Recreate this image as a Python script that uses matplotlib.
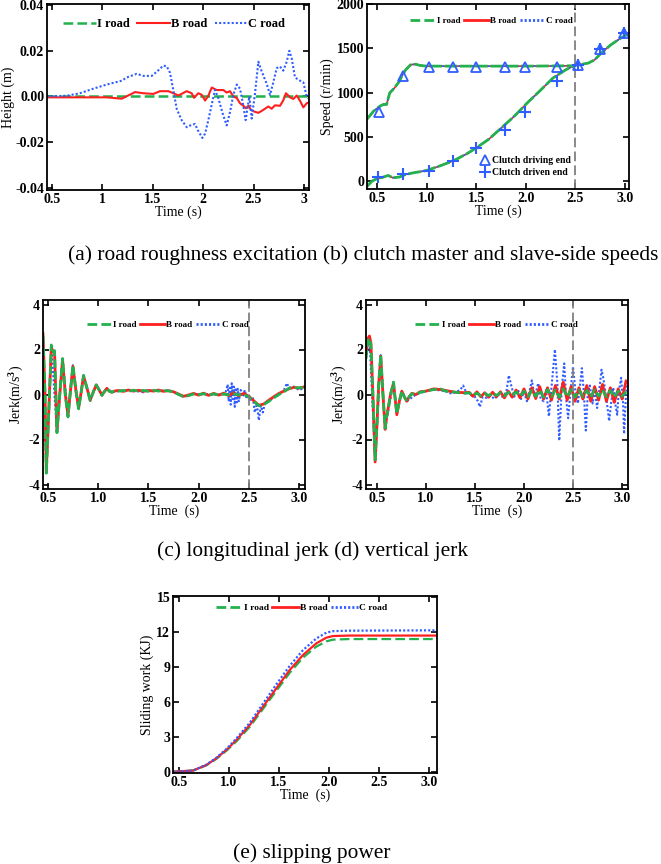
import numpy as np
import matplotlib
matplotlib.use("Agg")
import matplotlib.pyplot as plt

plt.rcParams['font.family'] = ['Liberation Serif', 'DejaVu Serif']
plt.rcParams['font.weight'] = 'bold'
plt.rcParams['mathtext.fontset'] = 'custom'
plt.rcParams['mathtext.rm'] = 'Liberation Serif:bold'
plt.rcParams['mathtext.it'] = 'Liberation Serif:bold:italic'
plt.rcParams['lines.scale_dashes'] = False

GREEN = '#22b14c'
RED = '#ff1f1f'
BLUE = '#2f5dff'
GREY = '#808080'
DASH = (0, (7, 3))
DOT = (0, (1.5, 1.5))

# ---------------- (a) road roughness ----------------
t_a_I = [0.45, 1.0, 1.5, 2.0, 2.5, 3.06]
h_I = [0.0, 0.0, 0.0, 0.0, 0.0, 0.0]
t_a_B = [0.45, 1.045, 1.194, 1.326, 1.408, 1.507, 1.573, 1.656, 1.705, 1.755, 1.838, 1.887,
         1.910, 1.953, 1.987, 2.02, 2.052, 2.086, 2.135, 2.201, 2.234, 2.267, 2.30, 2.334,
         2.366, 2.399, 2.426, 2.449, 2.475, 2.505, 2.548, 2.597, 2.647, 2.680, 2.713, 2.763,
         2.795, 2.822, 2.862, 2.895, 2.928, 2.961, 2.994, 3.027, 3.06]
h_B = [-0.0004, -0.0004, -0.001, 0.0019, 0.0014, 0.0011, 0.0023, 0.0023, 0.0014, 0.0004,
       0.0023, 0.0014, -0.0006, 0.0014, 0.0007, -0.0018, 0.0003, 0.0039, 0.0028, 0.0028,
       0.0017, 0.0023, 0.0, -0.0007, -0.003, -0.0041, -0.0052, -0.0041, -0.0059, -0.0066,
       -0.0072, -0.0059, -0.0044, -0.0054, -0.0039, -0.0041, -0.0017, 0.0014, -0.0004,
       -0.0011, 0.0004, -0.0019, -0.0048, -0.003, -0.0025]
t_a_C = [0.45, 0.649, 0.78, 0.912, 1.045, 1.194, 1.243, 1.342, 1.408, 1.491, 1.541, 1.606,
         1.64, 1.672, 1.705, 1.739, 1.788, 1.838, 1.887, 1.920, 1.953, 1.993, 2.02, 2.052,
         2.086, 2.118, 2.151, 2.195, 2.234, 2.267, 2.30, 2.334, 2.366, 2.399, 2.422, 2.439,
         2.459, 2.482, 2.515, 2.548, 2.581, 2.631, 2.664, 2.696, 2.730, 2.763, 2.795, 2.829,
         2.855, 2.879, 2.911, 2.961, 2.994, 3.027, 3.06]
h_C = [0.0, 0.0003, 0.0014, 0.0034, 0.0052, 0.0069, 0.0083, 0.0099, 0.009, 0.009, 0.0108,
       0.0135, 0.0132, 0.0104, 0.0028, -0.0055, -0.0104, -0.0135, -0.0124, -0.0121, -0.0152,
       -0.0182, -0.0163, -0.0104, -0.0035, 0.0028, -0.0007, -0.0076, -0.0127, -0.0069,
       0.0007, 0.0052, 0.0034, -0.0041, -0.0104, -0.0055, 0.0, -0.0097, 0.0014, 0.0152,
       0.011, 0.0055, 0.0007, 0.0062, 0.0124, 0.0131, 0.0113, 0.0152, 0.02, 0.0166, 0.0083,
       0.0069, 0.0062, 0.0, -0.0014]

# ---------------- (b) clutch speeds ----------------
t_drive = [0.40, 0.468, 0.532, 0.565, 0.597, 0.629, 0.677, 0.726, 0.758, 0.79, 0.839, 0.887,
           0.935, 1.0, 1.5, 2.0, 2.468, 2.532, 2.629, 2.694, 2.758, 2.855, 2.952, 3.04]
n_drive = [700, 791, 847, 865, 865, 996, 1052, 1126, 1201, 1257, 1313, 1320, 1306, 1298,
           1298, 1298, 1302, 1313, 1332, 1369, 1443, 1537, 1611, 1667]
t_driven = [0.40, 0.452, 0.5, 0.565, 0.613, 0.661, 0.726, 0.79, 0.855, 1.0, 1.145, 1.274,
            1.403, 1.5, 1.629, 1.758, 1.887, 2.016, 2.145, 2.274, 2.403, 2.516]
n_driven = [-60, 0, 26, 45, 63, 37, 45, 75, 90, 119, 175, 231, 306, 373, 474, 604, 735, 884,
            1022, 1164, 1257, 1320]
t_mark_drive = [0.52, 0.76, 1.02, 1.27, 1.50, 1.79, 1.99, 2.31, 2.53, 2.75, 2.99]
n_mark_drive = [780, 1190, 1290, 1290, 1290, 1290, 1290, 1290, 1310, 1490, 1670]
t_mark_driven = [0.51, 0.76, 1.02, 1.27, 1.50, 1.79, 1.99, 2.31, 2.53, 2.75, 2.99]
n_mark_driven = [45, 82, 119, 224, 369, 574, 783, 1126, 1310, 1490, 1670]

# ---------------- (c) longitudinal jerk ----------------
t_long = [0.45, 0.47, 0.483, 0.51, 0.533, 0.55, 0.565, 0.589, 0.617, 0.645, 0.672, 0.699,
          0.722, 0.748, 0.777, 0.805, 0.83, 0.854, 0.887, 0.92, 0.95, 0.98, 1.01, 1.037,
          1.06, 1.086, 1.11, 1.136, 1.17, 1.2, 1.25, 1.3, 1.35, 1.4, 1.45, 1.5, 1.55, 1.6,
          1.65, 1.7, 1.75, 1.8, 1.85, 1.9, 1.95, 2.0, 2.05, 2.1, 2.15, 2.2, 2.25, 2.3, 2.35,
          2.4, 2.45, 2.5, 2.55, 2.6, 2.65, 2.7, 2.75, 2.8, 2.85, 2.9, 2.95, 3.0, 3.06]
jl_I = [2.6, 0.0, -3.5, -0.5, 2.2, 1.9, 1.95, -1.7, 0.0, 1.6, 0.0, -1.0, 0.1, 1.3, 0.2,
        -0.64, 0.1, 0.85, 0.3, -0.27, 0.1, 0.43, 0.2, -0.04, 0.12, 0.28, 0.15, 0.1, 0.18,
        0.15, 0.18, 0.14, 0.19, 0.15, 0.18, 0.14, 0.19, 0.15, 0.18, 0.16, 0.12, 0.0, -0.1,
        -0.05, 0.02, 0.0, 0.03, -0.02, 0.02, 0.0, 0.02, -0.02, 0.03, -0.02, 0.0, -0.1, -0.3,
        -0.5, -0.45, -0.3, -0.15, 0.0, 0.12, 0.28, 0.3, 0.3, 0.32]
jl_B = [2.7, 0.0, -3.4, -0.5, 2.1, 1.9, 1.9, -1.65, 0.0, 1.55, 0.0, -0.95, 0.1, 1.25, 0.2,
        -0.6, 0.1, 0.82, 0.3, -0.25, 0.1, 0.42, 0.2, -0.03, 0.12, 0.27, 0.15, 0.1, 0.16,
        0.18, 0.14, 0.2, 0.15, 0.19, 0.14, 0.18, 0.15, 0.2, 0.14, 0.17, 0.12, 0.02, -0.08,
        -0.02, 0.05, -0.03, 0.06, -0.04, 0.05, -0.03, 0.06, -0.05, 0.08, -0.06, 0.05, -0.08,
        -0.28, -0.48, -0.42, -0.25, -0.1, 0.05, 0.15, 0.25, 0.32, 0.28, 0.35]
t_long_C = [0.45, 0.483, 0.533, 0.589, 0.645, 0.699, 0.748, 0.805, 0.854, 0.92, 0.98, 1.037,
            1.086, 1.136, 1.2, 1.3, 1.4, 1.45, 1.5, 1.55, 1.6, 1.7, 1.75, 1.85, 1.95, 2.05,
            2.15, 2.25, 2.27, 2.29, 2.30, 2.31, 2.32, 2.33, 2.34, 2.35, 2.36, 2.37, 2.38, 2.39,
            2.40, 2.42, 2.44, 2.46, 2.48, 2.50, 2.52, 2.54, 2.56, 2.58, 2.60, 2.62, 2.64, 2.66,
            2.70, 2.75, 2.80, 2.85, 2.88, 2.90, 2.95, 3.0, 3.06]
jl_C = [2.6, -3.5, 2.2, -1.7, 1.6, -1.0, 1.3, -0.64, 0.85, -0.27, 0.43, -0.04, 0.28, 0.1,
        0.15, 0.18, 0.14, 0.1, 0.2, 0.15, 0.18, 0.16, 0.12, -0.1, 0.02, 0.02, 0.0, 0.0, 0.1,
        0.45, -0.3, 0.3, -0.45, 0.5, -0.2, 0.35, -0.55, 0.3, -0.35, 0.25, -0.3, 0.2, -0.1,
        0.2, -0.2, 0.0, -0.3, -0.1, -0.8, -0.4, -1.15, -0.5, -0.8, -0.4, -0.3, -0.1, 0.0, 0.2,
        0.5, 0.3, 0.35, 0.2, 0.3]

# ---------------- (d) vertical jerk ----------------
t_vert = [0.39, 0.41, 0.425, 0.44, 0.46, 0.483, 0.50, 0.52, 0.54, 0.56, 0.585, 0.60, 0.618,
          0.64, 0.67, 0.69, 0.704, 0.73, 0.755, 0.78, 0.806, 0.83, 0.857, 0.9, 0.94, 1.0,
          1.08, 1.15, 1.2, 1.3, 1.4,
          1.44, 1.48, 1.52, 1.56, 1.60, 1.64, 1.68, 1.72, 1.76, 1.80, 1.84, 1.88, 1.92, 1.96,
          2.00, 2.04, 2.08, 2.12, 2.16, 2.20, 2.24, 2.28, 2.32, 2.36, 2.40, 2.44, 2.48, 2.52,
          2.56, 2.60, 2.64, 2.68, 2.72, 2.76, 2.80, 2.84, 2.88, 2.92, 2.96, 3.00, 3.04]
jv_I = [1.6, 2.4, 2.5, 2.2, 0.0, -2.9, -1.5, 0.5, 1.75, 0.2, -1.5, -1.0, -0.6, 0.0, 0.55,
        -0.3, -0.85, -0.3, 0.15, -0.1, -0.3, -0.1, 0.03, 0.0, 0.1, 0.15, 0.22, 0.25, 0.15,
        0.1, 0.05,
        0.08, -0.04, 0.06, -0.06, 0.05, -0.05, 0.07, -0.04, 0.08, -0.06, 0.10, -0.05, 0.12,
        -0.08, 0.15, -0.10, 0.18, -0.08, 0.20, -0.12, 0.22, -0.10, 0.20, -0.12, 0.25, -0.10,
        0.22, -0.12, 0.20, -0.10, 0.18, -0.12, 0.22, -0.08, 0.20, -0.10, 0.18, -0.12, 0.15,
        -0.08, 0.12]
jv_B = [1.8, 2.5, 2.6, 2.3, 0.0, -3.0, -1.5, 0.5, 1.7, 0.2, -1.55, -1.0, -0.55, 0.0, 0.5,
        -0.3, -0.9, -0.3, 0.15, -0.1, -0.3, -0.1, 0.05, 0.0, 0.12, 0.15, 0.25, 0.22, 0.18,
        0.1, 0.08,
        0.1, -0.08, 0.12, -0.1, 0.08, -0.12, 0.1, -0.1, 0.12, -0.15, 0.15, -0.12, 0.2, -0.15,
        0.25, -0.2, 0.3, -0.18, 0.35, -0.2, 0.3, -0.25, 0.4, -0.2, 0.55, -0.25, 0.35, -0.3,
        0.3, -0.2, 0.4, -0.3, 0.35, -0.25, 0.45, -0.3, 0.3, -0.35, 0.25, -0.2, 0.6]
t_vert_C = [0.39, 0.425, 0.483, 0.54, 0.585, 0.67, 0.704, 0.755, 0.806, 0.9, 1.0, 1.08, 1.2,
            1.25, 1.3, 1.35, 1.38, 1.41, 1.45, 1.5, 1.53, 1.55, 1.58, 1.62, 1.66, 1.7, 1.74,
            1.78, 1.82, 1.845, 1.87, 1.9, 1.94, 1.97, 2.0, 2.03, 2.06, 2.08, 2.11, 2.145, 2.17,
            2.2, 2.225, 2.254, 2.28, 2.315, 2.34, 2.359, 2.385, 2.41, 2.43, 2.45, 2.475, 2.50,
            2.525, 2.55, 2.59, 2.61, 2.63, 2.65, 2.67, 2.70, 2.72, 2.745, 2.77, 2.79, 2.81,
            2.84, 2.868, 2.89, 2.91, 2.935, 2.95, 2.965, 2.99, 3.01, 3.02, 3.04, 3.06]
jv_C = [1.6, 2.5, -2.9, 1.75, -1.5, 0.55, -0.85, 0.15, -0.3, 0.0, 0.15, 0.22, 0.15,
        0.05, 0.1, 0.2, 0.4, 0.1, 0.0, -0.1, -0.3, -0.55, -0.1, -0.15, -0.05, -0.2, 0.0,
        -0.1, 0.1, 0.85, 0.4, -0.1, 0.2, -0.2, 0.1, -0.3, 0.2, 0.63, -0.1, 0.5, -0.2,
        -0.3, 0.2, -0.97, 0.3, 2.0, 0.5, -2.05, 0.3, 1.38, -0.2, -1.05, 0.2, 1.24,
        0.1, -0.4, 1.17, 0.1, -1.6, 0.0, 0.4, -0.4, 0.3, -0.6, 0.3, 1.1, 0.7,
        -0.2, -1.18, -0.3, 0.3, -0.54, -0.9, 0.1, 0.74, -0.4, -1.75, 0.0, 0.7]

# ---------------- (e) sliding work ----------------
t_work = [0.44, 0.64, 0.773, 0.873, 0.98, 1.073, 1.207, 1.34, 1.473, 1.607, 1.74, 1.873,
          1.973, 2.04, 2.2, 3.08]
w_I = [0.0, 0.1, 0.55, 1.1, 1.85, 2.6, 3.85, 5.4, 6.95, 8.5, 9.8, 10.75, 11.2, 11.35, 11.4, 11.4]
w_B = [0.0, 0.1, 0.57, 1.15, 1.92, 2.72, 4.01, 5.59, 7.16, 8.74, 10.03, 11.03, 11.52, 11.66, 11.7, 11.7]
w_C = [0.0, 0.1, 0.6, 1.2, 2.0, 2.85, 4.2, 5.85, 7.5, 9.1, 10.45, 11.45, 11.95, 12.08, 12.12, 12.15]

legend_labels = ['I road', 'B road', 'C road']
captions = ['(a) road roughness excitation (b) clutch master and slave-side speeds',
            '(c) longitudinal jerk (d) vertical jerk',
            '(e) slipping power']

W, H = 661, 864
fig = plt.figure(figsize=(W / 100, H / 100), dpi=100)


def add_ax(x0, y0, x1, y1):
    return fig.add_axes([x0 / W, 1 - y1 / H, (x1 - x0) / W, (y1 - y0) / H])


def style(ax, xlim, ylim, xticks, xtl, yticks, ytl, xlabel, ylabel, fs=10, ylpad=2):
    ax.set_xlim(*xlim)
    ax.set_ylim(*ylim)
    ax.set_xticks(xticks)
    ax.set_xticklabels(xtl)
    ax.set_yticks(yticks)
    ax.set_yticklabels(ytl)
    ax.tick_params(direction='in', top=True, right=True, length=4, width=1.2,
                   labelsize=fs, pad=2)
    for s in ax.spines.values():
        s.set_linewidth(1.3)
    ax.set_xlabel(xlabel, fontsize=fs, labelpad=0)
    ax.set_ylabel(ylabel, fontsize=fs, labelpad=ylpad)


def road_legend(ax, handles, x, y, fs, hl, cs):
    return ax.legend(handles, legend_labels, loc='center', bbox_to_anchor=(x, y), ncol=3,
                     frameon=False, fontsize=fs, handlelength=hl, columnspacing=cs,
                     handletextpad=0.1, borderpad=0)


# (a)
ax = add_ax(47, 4, 309, 190)
l1, = ax.plot(t_a_I, h_I, color=GREEN, lw=1.8, ls=DASH)
l2, = ax.plot(t_a_B, h_B, color=RED, lw=1.5)
l3, = ax.plot(t_a_C, h_C, color=BLUE, lw=1.5, ls=DOT)
style(ax, (0.453, 3.05), (-0.041, 0.0405), [0.5, 1, 1.5, 2, 2.5, 3],
      ['0.5', '1', '1.5', '2', '2.5', '3'], [-0.04, -0.02, 0, 0.02, 0.04],
      ['-0.04', '-0.02', '0.00', '0.02', '0.04'], 'Time (s)', 'Height (m)', ylpad=0.5)
road_legend(ax, [l1, l2, l3], 0.485, 0.892, 9, 2.6, 0.6)

# (b)
ax = add_ax(367, 4, 629, 189)
ax.plot(t_drive, n_drive, color=RED, lw=1.2)
ax.plot(t_driven, n_driven, color=RED, lw=1.2)
ax.plot(t_drive, n_drive, color=BLUE, lw=1.2, ls=DOT)
ax.plot(t_driven, n_driven, color=BLUE, lw=1.2, ls=DOT)
ax.plot(t_drive, n_drive, color=GREEN, lw=2.0, ls=(0, (9, 2)))
ax.plot(t_driven, n_driven, color=GREEN, lw=2.0, ls=(0, (9, 2)))
ax.axvline(2.5, color=GREY, lw=1.3, ls=(0, (7, 3)))
m1, = ax.plot(t_mark_drive, n_mark_drive, ls='none', marker='^', ms=6.5, mfc='none',
              mec=BLUE, mew=1.3)
m2, = ax.plot(t_mark_driven, n_mark_driven, ls='none', marker='+', ms=8, mec=BLUE, mew=1.5)
hb1 = plt.Line2D([], [], color=GREEN, lw=2.0, ls=DASH)
hb2 = plt.Line2D([], [], color=RED, lw=2.0)
hb3 = plt.Line2D([], [], color=BLUE, lw=2.0, ls=DOT)
style(ax, (0.40, 3.04), (-90, 2000), [0.5, 1.0, 1.5, 2.0, 2.5, 3.0],
      ['0.5', '1.0', '1.5', '2.0', '2.5', '3.0'], [0, 500, 1000, 1500, 2000],
      ['0', '500', '1000', '1500', '2000'], 'Time (s)', 'Speed (r/min)')
leg = road_legend(ax, [hb1, hb2, hb3], 0.475, 0.91, 6.5, 2.8, 0.4)
ax.add_artist(leg)
ax.legend([m1, m2], ['Clutch driving end', 'Clutch driven end'], loc='upper left',
          bbox_to_anchor=(0.415, 0.205), frameon=False, fontsize=7, handlelength=1.0,
          handletextpad=0.2, labelspacing=0.35, borderpad=0)

# (c)
ax = add_ax(43, 300, 305, 489)
ax.plot(t_long_C, jl_C, color=BLUE, lw=1.5, ls=DOT)
ax.plot(t_long, jl_B, color=RED, lw=2.0)
ax.plot(t_long, jl_I, color=GREEN, lw=2.0, ls=(0, (6, 2.5)))
ax.axvline(2.5, color=GREY, lw=1.3, ls=(0, (7, 3)))
style(ax, (0.45, 3.06), (-4.2, 4.2), [0.5, 1.0, 1.5, 2.0, 2.5, 3.0],
      ['0.5', '1.0', '1.5', '2.0', '2.5', '3.0'], [-4, -2, 0, 2, 4],
      ['-4', '-2', '0', '2', '4'], 'Time  (s)', 'Jerk(m/s$^3$)')
road_legend(ax, [hb1, hb2, hb3], 0.476, 0.868, 6.5, 2.8, 0.4)

# (d)
ax = add_ax(366, 300, 628, 489)
ax.plot(t_vert_C, jv_C, color=BLUE, lw=1.5, ls=DOT)
ax.plot(t_vert, jv_B, color=RED, lw=2.0)
ax.plot(t_vert, jv_I, color=GREEN, lw=2.0, ls=(0, (6, 2.5)))
ax.axvline(2.5, color=GREY, lw=1.3, ls=(0, (7, 3)))
style(ax, (0.39, 3.06), (-4.2, 4.2), [0.5, 1.0, 1.5, 2.0, 2.5, 3.0],
      ['0.5', '1.0', '1.5', '2.0', '2.5', '3.0'], [-4, -2, 0, 2, 4],
      ['-4', '-2', '0', '2', '4'], 'Time  (s)', 'Jerk(m/s$^3$)')
road_legend(ax, [hb1, hb2, hb3], 0.498, 0.868, 6.5, 2.8, 0.4)

# (e)
ax = add_ax(173, 596, 437, 773)
ax.plot(t_work, w_I, color=GREEN, lw=1.6, ls=DASH)
ax.plot(t_work, w_B, color=RED, lw=1.6)
ax.plot(t_work, w_C, color=BLUE, lw=1.6, ls=DOT)
style(ax, (0.44, 3.08), (-0.11, 15.1), [0.5, 1.0, 1.5, 2.0, 2.5, 3.0],
      ['0.5', '1.0', '1.5', '2.0', '2.5', '3.0'], [0, 3, 6, 9, 12, 15],
      ['0', '3', '6', '9', '12', '15'], 'Time  (s)', 'Sliding work (KJ)')
road_legend(ax, [hb1, hb2, hb3], 0.487, 0.932, 6.8, 2.8, 0.4)

fig.text(363 / W, 1 - 255 / H, captions[0], ha='center', va='center', fontsize=15.4,
         fontweight='normal')
fig.text(313 / W, 1 - 551 / H, captions[1], ha='center', va='center', fontsize=15.4,
         fontweight='normal')
fig.text(312 / W, 1 - 853 / H, captions[2], ha='center', va='center', fontsize=15.4,
         fontweight='normal')

fig.savefig('out.png', dpi=100)
